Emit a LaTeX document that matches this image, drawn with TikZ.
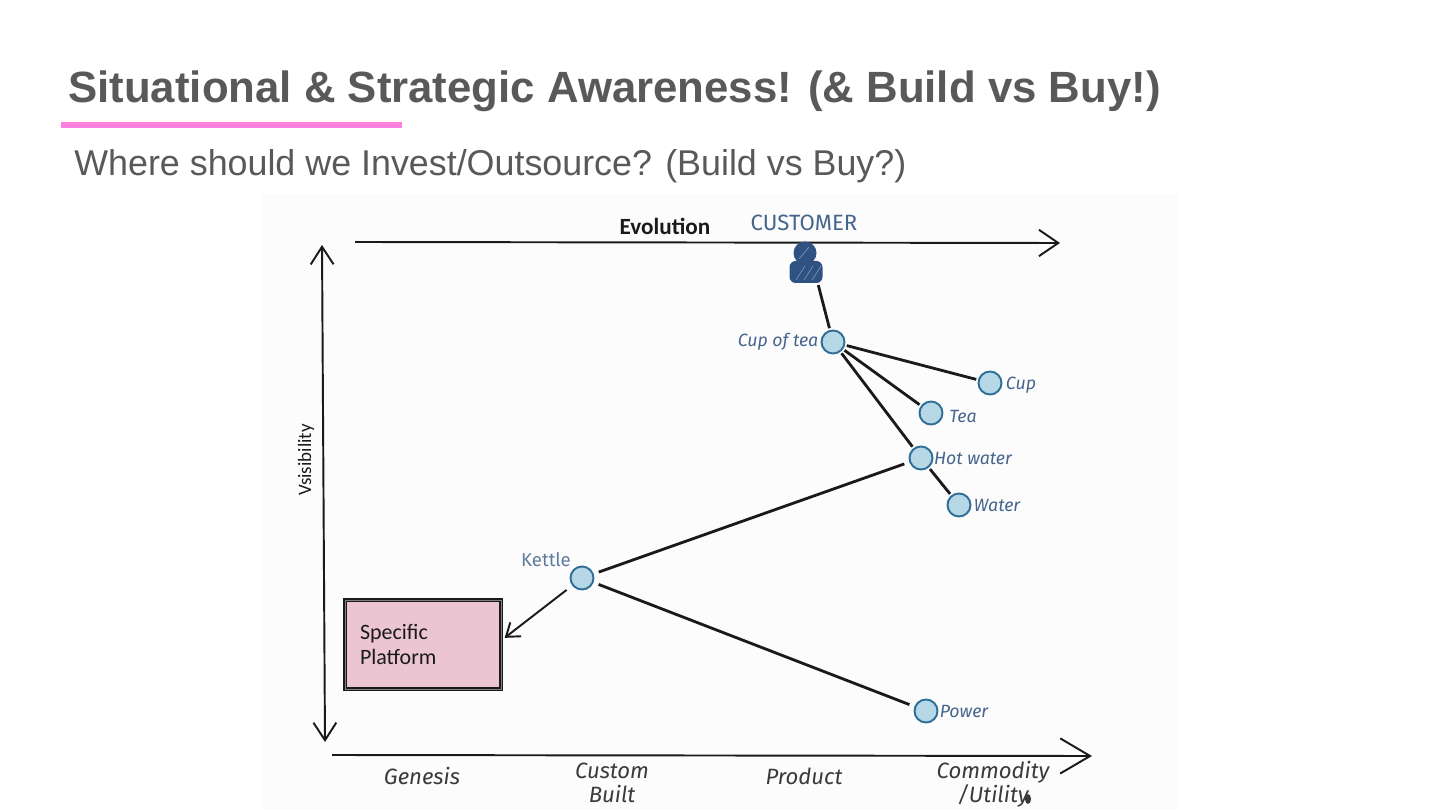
\documentclass[tikz,border=0pt]{standalone}
\usepackage{fontspec}
\setmainfont{Liberation Sans}
\newfontfamily\sketchfont{Fira Sans}
\newfontfamily\plainfont{Carlito}
\usepackage{tikz}
\usetikzlibrary{arrows.meta,positioning,calc}
\definecolor{slidegray}{HTML}{595959}
\definecolor{rulepink}{HTML}{FF7FDD}
\definecolor{panelwhite}{HTML}{FCFCFC}
\definecolor{inkblack}{HTML}{1A1A1A}
\definecolor{nodeblue}{HTML}{B5D7E6}
\definecolor{edgeblue}{HTML}{2F6E96}
\definecolor{labelblue}{HTML}{45658C}
\definecolor{personblue}{HTML}{2F5283}
\definecolor{boxpink}{HTML}{EBC5D1}
\definecolor{handgray}{HTML}{3A3A3A}
\tikzset{
  comp/.style={circle, draw=edgeblue, fill=nodeblue, line width=1.1pt, minimum size=0.46cm, inner sep=0pt},
  link/.style={inkblack, line width=1.6pt, shorten <=1pt, shorten >=1pt},
  axis/.style={inkblack, line width=1.1pt},
  complabel/.style={labelblue, font=\sketchfont\itshape\fontsize{10.1}{12}\selectfont},
  stagelabel/.style={handgray, font=\sketchfont\itshape\fontsize{12.6}{13.5}\selectfont, align=center}
}
\begin{document}
\begin{tikzpicture}[x=0.02cm, y=-0.02cm, >={Straight Barb[length=11pt,width=15pt]}]
  \useasboundingbox (0,0) rectangle (1440,810);
  % Slide heading
  \fill[panelwhite] (262,194) rectangle (1178,810);
  \node[slidegray, anchor=base west, inner sep=0pt, font=\bfseries\fontsize{24.9}{28}\selectfont] (heading) at (68,103) {Situational \& Strategic Awareness! (\& Build vs Buy!)};
  \fill[rulepink] (61,122) rectangle (402,128);
  \node[slidegray, anchor=base west, inner sep=0pt, font=\fontsize{20.4}{24}\selectfont] (subheading) at (74,176) {Where should we Invest/Outsource? (Build vs Buy?)};

  % Axes
  \coordinate (evostart) at (355,242);
  \coordinate (evoend) at (1060,243);
  \coordinate (vistop) at (322,245);
  \coordinate (visbottom) at (325,742);
  \coordinate (stagestart) at (332,755);
  \coordinate (stageend) at (1092,756);
  \draw[->, axis] (evostart) -- (evoend);
  \draw[<->, axis, >={Straight Barb[length=10pt,width=13pt]}] (vistop) -- (visbottom);
  \draw[->, axis, >={Straight Barb[length=17pt,width=20pt]}] (stagestart) -- (stageend);
  \node[inkblack, font=\plainfont\bfseries\fontsize{13.2}{16}\selectfont] (evolution) at (665,226) {Evolution};
  \node[inkblack, rotate=90, font=\plainfont\fontsize{10.8}{14}\selectfont] (visibility) at (306,460) {Vsisibility};

  % Customer
  \node[fill=personblue, circle, minimum size=0.46cm, inner sep=0pt] (customerhead) at (805,253) {};
  \node[fill=personblue, rounded corners=3.5pt, minimum width=0.66cm, minimum height=0.44cm, inner sep=0pt] (customer) at (806,272) {};
  \foreach \dx in {-10,-2,6} {
    \draw[personblue!55!white, line width=0.3pt] ($(customer.center)+(\dx,8)$) -- ++(9,-14);
  }
  \draw[personblue!55!white, line width=0.3pt] ($(customerhead.center)+(-6,6)$) -- ++(10,-12);
  \node[labelblue, font=\sketchfont\fontsize{12.6}{13}\selectfont] (customerlabel) at (804,223) {CUSTOMER};

  % Value chain
  \node[comp] (cupoftea) at (833,342) {};
  \node[comp] (cup) at (990,383) {};
  \node[comp] (tea) at (931,413) {};
  \node[comp] (hotwater) at (921,458) {};
  \node[comp] (water) at (959,505) {};
  \node[comp] (kettle) at (582,578) {};
  \node[comp] (power) at (926,711) {};

  \node[complabel] (cupofteatext) at (778,342) {Cup of tea};
  \node[complabel] (cuptext) at (1021,385) {Cup};
  \node[complabel] (teatext) at (963,416) {Tea};
  \node[complabel] (hotwatertext) at (973,458) {Hot water};
  \node[complabel] (watertext) at (997,505) {Water};
  \node[labelblue!85, font=\sketchfont\fontsize{10.6}{13}\selectfont] (kettletext) at (546,560) {Kettle};
  \node[complabel] (powertext) at (964,711) {Power};

  \draw[link] (customer.south east) ++(-5,0) coordinate (customerfoot) -- (cupoftea);
  \draw[link] (cupoftea) -- (cup);
  \draw[link] (cupoftea) -- (tea);
  \draw[link] (cupoftea) -- (hotwater);
  \draw[link] (hotwater) -- (water);
  \draw[link, shorten <=3pt, shorten >=3pt] (kettle) -- (hotwater);
  \draw[link, shorten <=3pt, shorten >=3pt] (kettle) -- (power);

  % Platform
  \node[draw=inkblack, fill=boxpink, text=inkblack, line width=1pt, double=gray, double distance=0.5pt, minimum width=3.12cm, minimum height=1.78cm, text width=2.52cm, inner xsep=0.3cm, inner ysep=0pt, align=left, font=\plainfont\fontsize{12.5}{14.2}\selectfont] (platform) at (423,644.5) {Specific\\Platform};
  \draw[->, axis, >={Straight Barb[length=7pt,width=10pt]}, shorten <=4pt, shorten >=2pt] (kettle) -- (platform.east |- 0,640);

  % Stages
  \node[stagelabel] (genesis) at (422,776) {Genesis};
  \node[stagelabel] (custombuilt) at (612,783) {Custom\\Built};
  \node[stagelabel] (product) at (804,776) {Product};
  \node[stagelabel] (commodity) at (993,784) {Commodity\\/Utility};
  \fill[handgray] (1028,799) ellipse (3 and 5);
\end{tikzpicture}
\end{document}
